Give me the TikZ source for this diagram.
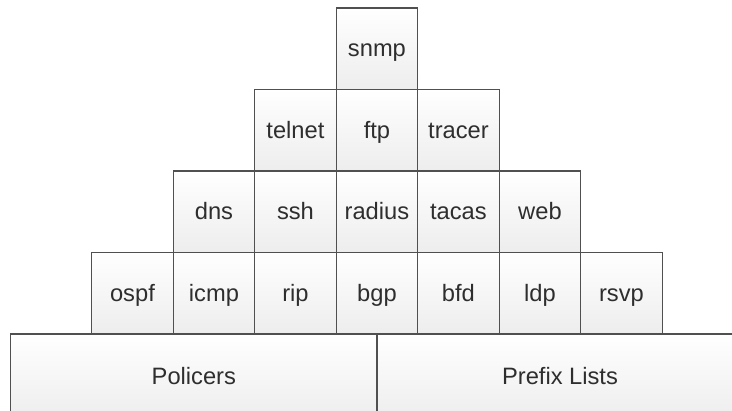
\documentclass[tikz,border=0pt]{standalone}
\usepackage{fontspec}
\setmainfont{Liberation Sans}
\definecolor{edge}{HTML}{505050}
\definecolor{ink}{HTML}{2E2E2E}
\definecolor{shadelow}{HTML}{EDEDED}
\begin{document}
\begin{tikzpicture}[x=1pt,y=-1pt,
  cell/.style={draw=edge, line width=1.2pt, top color=white, bottom color=shadelow,
    minimum width=81.5pt, minimum height=81.5pt, inner sep=0pt,
    text=ink, font=\fontsize{23.7}{28}\selectfont, text height=16pt, text depth=0pt},
  base/.style={cell, minimum height=86pt}]
\useasboundingbox (0,0) rectangle (732,411);
\pgfmathsetmacro{\cw}{81.5}
% bottom layer
\node[base, minimum width=366.3pt] (pol) at (193.85,377) {Policers};
\node[base, minimum width=366pt] (pfx) at (560,377) {Prefix Lists};
% first protocol row
\foreach \t [count=\i from 0] in {ospf,icmp,rip,bgp,bfd,ldp,rsvp}
  \node[cell] (\t) at ({132.45+\cw*\i},293.25) {\t};
% second row
\foreach \t [count=\i from 1] in {dns,ssh,radius,tacas,web}
  \node[cell] (\t) at ({132.45+\cw*\i},211.75) {\t};
% third row
\foreach \t [count=\i from 2] in {telnet,ftp,tracer}
  \node[cell] (\t) at ({132.45+\cw*\i},130.25) {\t};
% apex
\node[cell] (snmp) at ({132.45+\cw*3},48.75) {snmp};
\end{tikzpicture}
\end{document}
